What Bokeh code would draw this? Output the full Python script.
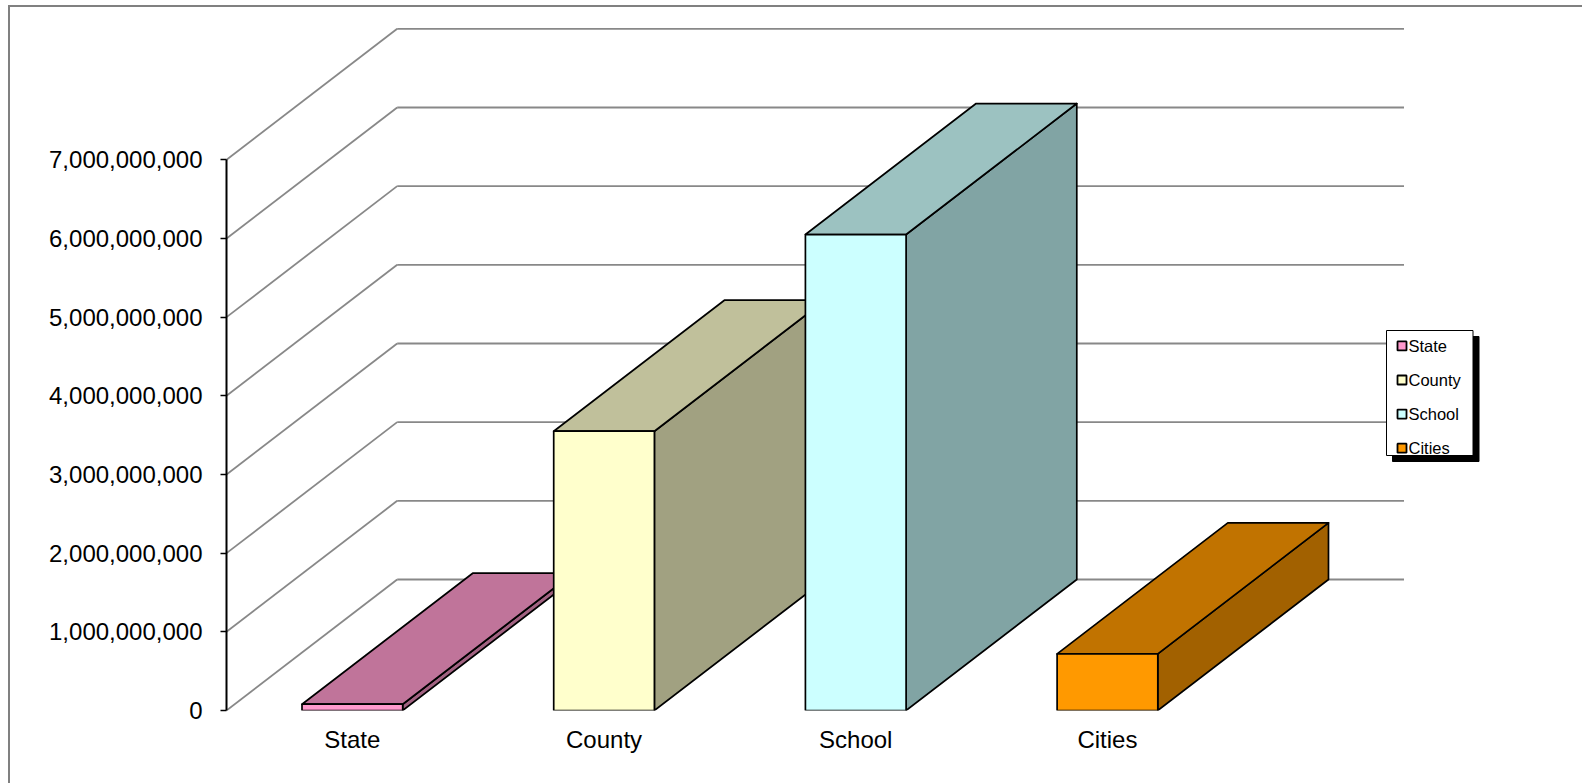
from bokeh.plotting import figure
from bokeh.models import LinearAxis, FixedTicker, NumeralTickFormatter, Range1d, ColumnDataSource
from bokeh.core.properties import value
from bokeh.embed import file_html
from bokeh.resources import INLINE

# ---- data -----------------------------------------------------------------
categories = ["State", "County", "School", "Cities"]
amounts = [80_000_000, 3_550_000_000, 6_050_000_000, 720_000_000]
y_ticks = [0, 1_000_000_000, 2_000_000_000, 3_000_000_000,
           4_000_000_000, 5_000_000_000, 6_000_000_000, 7_000_000_000]
legend_labels = ["State", "County", " School", "Cities"]

# ---- styling --------------------------------------------------------------
front_colors = ["#FF99CC", "#FFFFCC", "#CCFFFF", "#FF9900"]
top_colors = ["#C0749A", "#C0C09B", "#9CC2C1", "#C17300"]
side_colors = ["#A16281", "#A1A181", "#81A4A4", "#A26100"]
FONT = "Liberation Sans"
GRID_COLOR = "#888888"

W, H = 1582, 783
LEFT, BOTTOM = 226, 73          # frame offsets in pixels
PX_PER_CAT = 251.7              # pixels per category band
PX_PER_BILLION = 78.67          # pixels per 1e9 on the value axis
DEPTH_PX = (170.7, 131.0)       # oblique depth offset of the 3-D box
BAR_W = 0.4                     # bar width as a fraction of a band

x_start = 0.5
x_end = x_start + (W - LEFT) / PX_PER_CAT
y_end = (H - BOTTOM) / PX_PER_BILLION * 1e9
DX = DEPTH_PX[0] / PX_PER_CAT
DY = DEPTH_PX[1] / PX_PER_BILLION * 1e9


def sx(px):
    """screen x (pixels) -> data x"""
    return x_start + (px - LEFT) / PX_PER_CAT


def sy(py):
    """screen y (pixels from top) -> data y"""
    return (H - BOTTOM - py) / PX_PER_BILLION * 1e9


border_css = ("linear-gradient(#808080,#808080) 8px 5px / calc(100% - 8px) 2px no-repeat, "
              "linear-gradient(#808080,#808080) 8px 5px / 2px calc(100% - 5px) no-repeat, #ffffff")

p = figure(width=W, height=H, x_range=Range1d(x_start, x_end), y_range=Range1d(0, y_end),
           output_backend="svg", toolbar_location=None,
           x_axis_type=None, y_axis_type=None,
           min_border_left=LEFT, min_border_right=0, min_border_top=0, min_border_bottom=BOTTOM,
           styles={"background": border_css})
p.border_fill_alpha = 0
p.background_fill_alpha = 0
p.outline_line_color = None

n = len(categories)

# ---- walls: side-wall diagonals and back-wall gridlines -------------------
p.segment(x0=[x_start] * len(y_ticks), y0=y_ticks,
          x1=[x_start + DX] * len(y_ticks), y1=[t + DY for t in y_ticks],
          line_color=GRID_COLOR, line_width=1.8)
p.segment(x0=[x_start + DX] * len(y_ticks), y0=[t + DY for t in y_ticks],
          x1=[x_start + n + DX] * len(y_ticks), y1=[t + DY for t in y_ticks],
          line_color=GRID_COLOR, line_width=1.8)

# ---- 3-D bars, painted left to right ---------------------------------------
for i, (cat, v) in enumerate(zip(categories, amounts)):
    c = i + 1
    l, r = c - BAR_W / 2, c + BAR_W / 2
    side = ColumnDataSource(dict(xs=[[r, r + DX, r + DX, r]], ys=[[0, DY, v + DY, v]]))
    top = ColumnDataSource(dict(xs=[[l, r, r + DX, l + DX]], ys=[[v, v, v + DY, v + DY]]))
    p.patches("xs", "ys", source=side, fill_color=side_colors[i],
              line_color="black", line_width=1.7, line_join="round")
    p.patches("xs", "ys", source=top, fill_color=top_colors[i],
              line_color="black", line_width=1.7, line_join="round")
    p.quad(left=[l], right=[r], bottom=[0], top=[v], fill_color=front_colors[i],
           line_color="black", line_width=1.7)

# ---- axes -------------------------------------------------------------------
yaxis = LinearAxis(ticker=FixedTicker(ticks=y_ticks, minor_ticks=[]),
                   formatter=NumeralTickFormatter(format="0,0"),
                   bounds=(0, y_ticks[-1]))
yaxis.axis_line_color = "black"
yaxis.axis_line_width = 2
yaxis.major_tick_out = 6
yaxis.major_tick_in = 0
yaxis.major_tick_line_width = 1.5
yaxis.minor_tick_out = 0
yaxis.minor_tick_in = 0
yaxis.major_label_standoff = 18
yaxis.major_label_text_font = FONT
yaxis.major_label_text_font_size = "24px"
yaxis.major_label_text_color = "black"
p.add_layout(yaxis, "left")

xaxis = LinearAxis(ticker=FixedTicker(ticks=list(range(1, n + 1)), minor_ticks=[]),
                   major_label_overrides={i + 1: c for i, c in enumerate(categories)})
xaxis.axis_line_color = None
xaxis.major_tick_out = 0
xaxis.major_tick_in = 0
xaxis.minor_tick_out = 0
xaxis.minor_tick_in = 0
xaxis.major_label_standoff = 15
xaxis.major_label_text_font = FONT
xaxis.major_label_text_font_size = "24px"
xaxis.major_label_text_color = "black"
p.add_layout(xaxis, "below")

# ---- legend with drop shadow ---------------------------------------------------
box = (1386, 1472.5, 330, 455)   # left, right, top, bottom in pixels
shadow = 6
p.quad(left=[sx(box[0] + shadow)], right=[sx(box[1] + shadow)],
       top=[sy(box[2] + shadow)], bottom=[sy(box[3] + shadow)],
       fill_color="black", line_color="black")
p.quad(left=[sx(box[0])], right=[sx(box[1])], top=[sy(box[2])], bottom=[sy(box[3])],
       fill_color="white", line_color="black", line_width=1)

row_y = [345.4 + 34.1 * k for k in range(n)]
sw = 4.5
p.quad(left=[sx(1401.5 - sw)] * n, right=[sx(1401.5 + sw)] * n,
       top=[sy(y - sw) for y in row_y], bottom=[sy(y + sw) for y in row_y],
       fill_color=front_colors, line_color="black", line_width=1.8)
p.text(x=[sx(1408)] * n, y=[sy(y) for y in row_y], text=legend_labels,
       text_font=value(FONT), text_font_size=value("16.5px"),
       text_baseline="middle", text_align="left", text_color="black")

open("out.html", "w").write(file_html(p, INLINE))
